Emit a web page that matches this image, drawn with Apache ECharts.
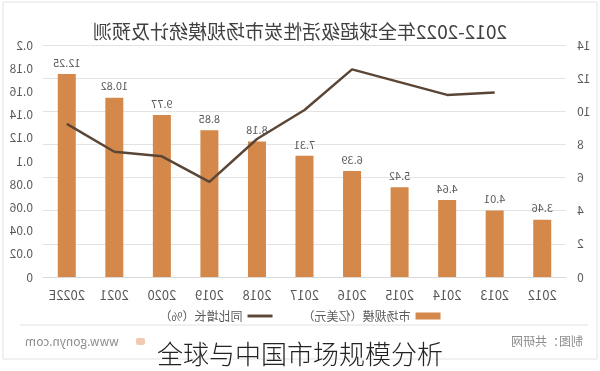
<!DOCTYPE html>
<html>
<head>
<meta charset="utf-8">
<script src="https://cdn.jsdelivr.net/npm/echarts@6/dist/echarts.min.js"></script>
<style>
html,body{margin:0;padding:0;background:#fff;}
#wrap{position:relative;width:600px;height:371px;overflow:hidden;background:#fff;}
#chart{position:absolute;left:0;top:0;width:600px;height:371px;transform:scaleX(-1);}
#caption{position:absolute;left:0;top:336px;width:600px;text-align:center;font-family:"Noto Sans CJK SC",sans-serif;font-weight:300;font-size:26px;line-height:34px;color:#222;}
</style>
</head>
<body>
<div id="wrap">
<div id="chart"></div>
<div id="caption">全球与中国市场规模分析</div>
</div>
<script>
const titleText = '2012-2022年全球超级活性炭市场规模统计及预测';
const categories = ['2012','2013','2014','2015','2016','2017','2018','2019','2020','2021','2022E'];
const marketSize = [3.46, 4.01, 4.64, 5.42, 6.39, 7.31, 8.18, 8.85, 9.77, 10.82, 12.25];
const growthRate = [null, 0.159, 0.157, 0.168, 0.179, 0.144, 0.119, 0.082, 0.104, 0.108, 0.132];
const seriesNames = ['市场规模（亿美元）', '同比增长（%）'];
const sourceText = '制图：共研网';
const siteText = 'www.gonyn.com';

const font = '"Noto Sans CJK SC", "Noto Sans", sans-serif';
const chart = echarts.init(document.getElementById('chart'), null, {renderer: 'canvas'});
chart.setOption({
  animation: false,
  backgroundColor: '#fff',
  textStyle: {fontFamily: font},
  title: {
    text: titleText, left: 'center', top: 17,
    textStyle: {fontSize: 19, fontWeight: 'normal', color: '#404040', fontFamily: font}
  },
  grid: {left: 34, right: 43, top: 45, bottom: 94},
  legend: {
    top: 305, left: 'center', itemGap: 30,
    textStyle: {fontSize: 12, color: '#595959', fontFamily: font},
    data: [
      {name: seriesNames[0], icon: 'rect', itemStyle: {color: '#d4894b'}},
      {name: seriesNames[1], icon: 'path://M0,0 L26,0 L26,3 L0,3 Z'}
    ],
    itemWidth: 25, itemHeight: 7
  },
  xAxis: {
    type: 'category', data: categories,
    axisTick: {show: false},
    axisLine: {lineStyle: {color: '#d9d9d9'}},
    axisLabel: {color: '#595959', fontSize: 13, margin: 12, fontFamily: font}
  },
  yAxis: [
    {type: 'value', min: 0, max: 14, interval: 2, position: 'left',
     axisLabel: {color: '#595959', fontSize: 12, margin: 11},
     axisLine: {show: false}, axisTick: {show: false},
     splitLine: {lineStyle: {color: '#e3e3e3'}}},
    {type: 'value', min: 0, max: 0.2, interval: 0.02, position: 'right',
     axisLabel: {color: '#595959', fontSize: 12, margin: 10},
     axisLine: {show: false}, axisTick: {show: false},
     splitLine: {show: false}}
  ],
  series: [
    {name: seriesNames[0], type: 'bar', data: marketSize, barWidth: 18,
     itemStyle: {color: '#d4894b'},
     label: {show: true, position: 'top', distance: 6, color: '#595959', fontSize: 11}},
    {name: seriesNames[1], type: 'line', yAxisIndex: 1, data: growthRate,
     symbol: 'none', lineStyle: {color: '#5b4636', width: 2.5}, itemStyle: {color: '#5b4636'}}
  ],
  graphic: [
    {type: 'rect', shape: {x: 3, y: 2, width: 594, height: 357}, style: {fill: 'none', stroke: '#e2e2e2', lineWidth: 1}, silent: true},
    {type: 'line', shape: {x1: 12, y1: 325, x2: 580, y2: 325}, style: {stroke: '#e2e2e2', lineWidth: 1}, silent: true},
    {type: 'text', left: 17, top: 335, style: {text: sourceText, fontSize: 12, fill: '#8c8c8c', fontFamily: font}},
    {type: 'text', right: 25, top: 335, style: {text: siteText, fontSize: 12, fill: '#8c8c8c', fontFamily: font}},
    {type: 'rect', shape: {x: 455, y: 338, width: 9, height: 7, r: 2}, style: {fill: '#f3c9b4'}, silent: true}
  ]
});
</script>
</body>
</html>
